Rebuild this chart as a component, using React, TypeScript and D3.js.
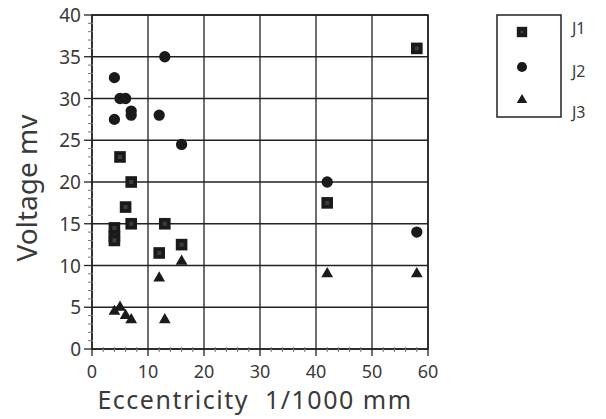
import React from "react";
import * as d3 from "d3";

// values
const j1X = [4, 4, 4, 5, 7, 6, 7, 13, 12, 16, 42, 58];
const j1Y = [14.5, 13.5, 13, 23, 20, 17, 15, 15, 11.5, 12.5, 17.5, 36];
const j2X = [4, 5, 6, 7, 7, 4, 12, 13, 16, 42, 58];
const j2Y = [32.5, 30, 30, 28.5, 28, 27.5, 28, 35, 24.5, 20, 14];
const j3X = [4, 5, 6, 7, 12, 13, 16, 42, 58];
const j3Y = [4.5, 5, 4, 3.5, 8.5, 3.5, 10.5, 9, 9];
const seriesNames = ["J1", "J2", "J3"];
const xTicks = [0, 10, 20, 30, 40, 50, 60];
const yTicks = [0, 5, 10, 15, 20, 25, 30, 35, 40];

const W = 606;
const H = 419;
const margin = { top: 15, right: 178, bottom: 70, left: 92 };
const font = "'Noto Sans', 'Open Sans', sans-serif";
const ink = "#222";
const textCol = "#3a3a3a";

const symbols = [d3.symbolSquare, d3.symbolCircle, d3.symbolTriangle];
const sizes = [135, 100, 60];

export default function App() {
  const x = d3.scaleLinear().domain([0, 60]).range([margin.left, W - margin.right]);
  const y = d3.scaleLinear().domain([0, 40]).range([H - margin.bottom, margin.top]);

  const series = [
    j1X.map((v, i) => ({ x: v, y: j1Y[i] })),
    j2X.map((v, i) => ({ x: v, y: j2Y[i] })),
    j3X.map((v, i) => ({ x: v, y: j3Y[i] })),
  ];

  const [x0, x1] = x.range();
  const [y0, y1] = y.range();
  const xMinor = d3.range(0, 61, 2).filter((d) => d % 10 !== 0);
  const yMinor = d3.range(0, 41, 1).filter((d) => d % 5 !== 0);

  const path = (k: number, s = 1) => d3.symbol().type(symbols[k]).size(sizes[k] * s)()!;

  const legendX = 497;
  const legendY = 15;
  const legendW = 64;
  const legendH = 102;
  const legendMarkY = [32, 67, 100];
  const legendLabelY = [34, 77, 118];

  return (
    <svg width={W} height={H} style={{ display: "block", position: "absolute", left: 0, top: 0, background: "#fff" }}>
      {/* grid */}
      {xTicks.map((t) => (
        <line key={"gx" + t} x1={x(t)} x2={x(t)} y1={y1} y2={y0} stroke={ink} strokeWidth={1.3} />
      ))}
      {yTicks.map((t) => (
        <line key={"gy" + t} x1={x0} x2={x1} y1={y(t)} y2={y(t)} stroke={ink} strokeWidth={1.3} />
      ))}
      <rect x={x0} y={y1} width={x1 - x0} height={y0 - y1} fill="none" stroke={ink} strokeWidth={1.6} />

      {/* ticks */}
      {xTicks.map((t) => (
        <line key={"tx" + t} x1={x(t)} x2={x(t)} y1={y0} y2={y0 + 7} stroke={ink} strokeWidth={1.3} />
      ))}
      {xMinor.map((t) => (
        <line key={"mx" + t} x1={x(t)} x2={x(t)} y1={y0 - 2} y2={y0 + 3} stroke="#777" strokeWidth={1} />
      ))}
      {yTicks.map((t) => (
        <line key={"ty" + t} x1={x0 - 8} x2={x0} y1={y(t)} y2={y(t)} stroke={ink} strokeWidth={1.3} />
      ))}
      {yMinor.map((t) => (
        <line key={"my" + t} x1={x0 - 4} x2={x0 + 1} y1={y(t)} y2={y(t)} stroke="#777" strokeWidth={1} />
      ))}

      {/* tick labels */}
      {xTicks.map((t) => (
        <text key={"lx" + t} x={x(t)} y={y0 + 29} textAnchor="middle" fontFamily={font} fontSize={18} fill={textCol}>
          {t}
        </text>
      ))}
      {yTicks.map((t) => (
        <text key={"ly" + t} x={x0 - 11} y={y(t) + 7} textAnchor="end" fontFamily={font} fontSize={19} fill={textCol}>
          {t}
        </text>
      ))}

      {/* axis titles */}
      <text x={255} y={409} textAnchor="middle" fontFamily={font} fontSize={25} letterSpacing={1.5} fill={textCol}>
        Eccentricity{"\u00a0\u00a0"}1/1000 mm
      </text>
      <text
        transform={`translate(37,188) rotate(-90)`}
        textAnchor="middle"
        fontFamily={font}
        fontSize={28}
        fill={textCol}
      >
        Voltage mv
      </text>

      {/* points */}
      {series.map((pts, k) =>
        pts.map((p, i) => (
          <g key={`p${k}-${i}`} transform={`translate(${x(p.x)},${y(p.y)})`}>
            <path d={path(k)} fill="#1a1a1a" />
            {k === 0 && <rect x={-2} y={-2} width={4} height={4} fill="#3c3c3c" />}
          </g>
        ))
      )}

      {/* legend */}
      <rect x={legendX} y={legendY} width={legendW} height={legendH} fill="none" stroke={ink} strokeWidth={1.5} />
      {seriesNames.map((name, k) => (
        <g key={name}>
          <g transform={`translate(${legendX + 25},${legendMarkY[k]})`}>
            <path d={path(k, 0.8)} fill="#1a1a1a" />
            {k === 0 && <rect x={-1.5} y={-1.5} width={3} height={3} fill="#3c3c3c" />}
          </g>
          <text x={572} y={legendLabelY[k]} fontFamily={font} fontSize={16} fill={textCol}>
            {name}
          </text>
        </g>
      ))}
    </svg>
  );
}
